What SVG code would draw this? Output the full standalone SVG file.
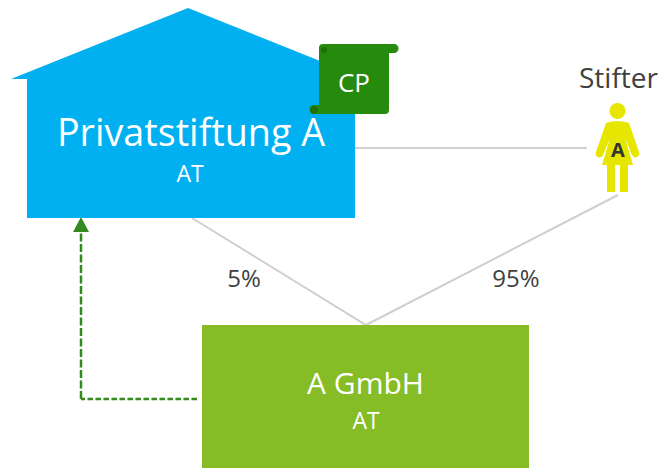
<svg xmlns="http://www.w3.org/2000/svg" width="661" height="468" viewBox="0 0 661 468">
<style>
text{font-family:"Open Sans","Noto Sans","Liberation Sans",sans-serif;text-anchor:middle}
.w{fill:#fff}
.d{fill:#404040}
.line{fill:none;stroke:#d0cece;stroke-width:2}
.dash{fill:none;stroke:#36891f;stroke-width:2.500}
</style>
<g id="connectors">
<path class="line" d="M355 148H587"/>
<path class="line" d="M192 218L366 325L618 195"/>
<path class="dash" d="M197 399H81" stroke-dasharray="5.500 2.500"/>
<path class="dash" d="M81 399V232" stroke-dasharray="8 2.500"/>
<path d="M81 217L89 232H73Z" fill="#36891f"/>
</g>
<g id="privatstiftung">
<path d="M188 8L365 79H355V218H27V79H11Z" fill="#00b0f0"/>
<text class="w" x="191" y="146" font-size="37.700">Privatstiftung A</text>
<text class="w" x="190" y="182" font-size="23">AT</text>
</g>
<g id="cp">
<path d="M323 44H394A4.500 4.500 0 0 1 394 53H389V110A4 4 0 0 1 385 114H314A4.500 4.500 0 0 1 314 105H319V48A4 4 0 0 1 323 44Z" fill="#268a0d"/>
<circle cx="314" cy="110" r="4" fill="#1f6f0a"/>
<circle cx="324" cy="50" r="3" fill="#1f6f0a"/>
<text class="w" x="354" y="92" font-size="26">CP</text>
</g>
<g id="stifter">
<text class="d" x="618.500" y="88" font-size="28">Stifter</text>
<circle cx="617.500" cy="111" r="8" fill="#e6e600"/>
<path d="M606 123Q617.500 119 629 123L639 152A3.700 3.700 0 0 1 632 155L625 138L633 165H628V192H620V165H615V192H607V165H602L610 138L603 155A3.700 3.700 0 0 1 596 152Z" fill="#e6e600"/>
<text x="618" y="157" font-size="20" font-weight="700" fill="#333">A</text>
</g>
<g id="gmbh">
<rect x="202" y="325" width="327" height="143" fill="#86bc25"/>
<text class="w" x="365.500" y="394" font-size="30">A GmbH</text>
<text class="w" x="366" y="429" font-size="23">AT</text>
</g>
<g id="labels">
<text class="d" x="244" y="287" font-size="24">5%</text>
<text class="d" x="516" y="287" font-size="24">95%</text>
</g>
</svg>
